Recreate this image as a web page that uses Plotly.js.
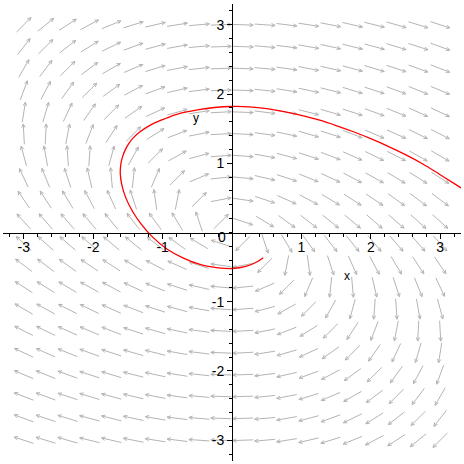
<!DOCTYPE html>
<html>
<head>
<meta charset="utf-8">
<script src="https://cdn.plot.ly/plotly-3.0.1.min.js"></script>
<style>html,body{margin:0;padding:0;background:#fff;}#chart{width:464px;height:464px;}</style>
</head>
<body>
<div id="chart"></div>
<script>
// Direction-field grid (20 x 20)
const gridX = [-3, -2.684, -2.368, -2.053, -1.737, -1.421, -1.105, -0.789, -0.474, -0.158,
               0.158, 0.474, 0.789, 1.105, 1.421, 1.737, 2.053, 2.368, 2.684, 3];
const gridY = [3, 2.684, 2.368, 2.053, 1.737, 1.421, 1.105, 0.789, 0.474, 0.158,
               -0.158, -0.474, -0.789, -1.105, -1.421, -1.737, -2.053, -2.368, -2.684, -3];
// Arrow directions in degrees, one row per gridY value (left to right = gridX)
const arrowAngles = [
  [45,39,33,28,22,17,13,9,5,2,-2,-4,-7,-9,-11,-13,-14,-16,-17,-18],
  [52,45,38,32,26,20,15,10,5,2,-2,-5,-7,-10,-12,-14,-15,-17,-18,-20],
  [60,53,45,37,30,23,17,11,6,2,-2,-5,-8,-11,-13,-15,-17,-18,-20,-21],
  [70,62,54,45,36,28,20,13,7,2,-2,-6,-9,-12,-14,-17,-18,-20,-22,-23],
  [81,74,65,55,45,35,25,16,9,3,-2,-7,-10,-14,-16,-18,-20,-22,-24,-25],
  [93,87,79,69,57,45,32,21,11,3,-3,-8,-12,-16,-18,-21,-23,-24,-26,-27],
  [105,100,94,86,75,61,45,29,15,4,-4,-10,-15,-18,-21,-24,-26,-27,-29,-30],
  [115,112,108,103,95,84,67,45,23,6,-5,-13,-18,-22,-25,-28,-29,-31,-32,-33],
  [124,123,121,118,114,108,98,79,45,11,-8,-18,-24,-28,-31,-33,-34,-36,-37,-37],
  [132,131,131,130,129,128,126,121,108,45,-18,-31,-36,-38,-39,-40,-41,-41,-42,-42],
  [138,138,139,139,140,141,142,144,149,162,-135,-72,-59,-54,-52,-51,-50,-49,-49,-48],
  [143,143,144,146,147,149,152,156,162,172,-169,-135,-101,-82,-72,-66,-62,-59,-57,-56],
  [147,148,149,151,152,155,158,162,167,175,-174,-157,-135,-113,-96,-85,-77,-72,-68,-65],
  [150,151,153,154,156,159,162,165,170,176,-176,-165,-151,-135,-119,-105,-94,-86,-80,-75],
  [153,154,156,157,159,162,164,168,172,177,-177,-169,-159,-148,-135,-123,-111,-101,-93,-87],
  [155,156,158,160,162,164,166,170,173,178,-177,-171,-164,-155,-145,-135,-125,-115,-106,-99],
  [157,158,160,162,163,166,168,171,174,178,-178,-173,-167,-160,-152,-144,-135,-126,-118,-110],
  [159,160,162,163,165,167,169,172,175,178,-178,-174,-169,-163,-157,-150,-143,-135,-127,-120],
  [160,162,163,165,166,168,170,173,175,178,-178,-175,-170,-165,-160,-154,-148,-142,-135,-128],
  [162,163,164,166,167,169,171,173,176,178,-178,-175,-171,-167,-163,-158,-152,-147,-141,-135]
];
// Solution curve
const trajX = [0.45, 0.35, 0.2, 0, -0.2, -0.45, -0.7, -0.95, -1.15, -1.3, -1.43, -1.53, -1.59, -1.61,
               -1.60, -1.575, -1.54, -1.49, -1.42, -1.33, -1.22, -1.1, -0.95, -0.75, -0.5, -0.25,
               0, 0.25, 0.5, 0.75, 1.0, 1.25, 1.5, 1.75, 2.0, 2.25, 2.5, 2.75, 3.0, 3.3];
const trajY = [-0.365, -0.43, -0.49, -0.52, -0.51, -0.465, -0.37, -0.23, -0.06, 0.11, 0.3, 0.5, 0.7, 0.85,
               1.0, 1.1, 1.19, 1.28, 1.37, 1.45, 1.525, 1.59, 1.65, 1.72, 1.77, 1.805,
               1.82, 1.815, 1.79, 1.745, 1.69, 1.625, 1.545, 1.455, 1.355, 1.245, 1.125, 0.99, 0.835, 0.645];
const tickVals = [-3, -2, -1, 1, 2, 3];
const tickText = ['-3', '-2', '-1', '1', '2', '3'];

// build arrow segments
const arrowLen = 0.295, headLen = 0.058, headAng = 25 * Math.PI / 180;
const ax = [], ay = [];
for (let r = 0; r < gridY.length; r++) {
  for (let c = 0; c < gridX.length; c++) {
    const t = arrowAngles[r][c] * Math.PI / 180;
    const cx = gridX[c], cy = gridY[r];
    const x0 = cx - arrowLen / 2 * Math.cos(t), y0 = cy - arrowLen / 2 * Math.sin(t);
    const x1 = cx + arrowLen / 2 * Math.cos(t), y1 = cy + arrowLen / 2 * Math.sin(t);
    ax.push(x0, x1, null); ay.push(y0, y1, null);
    for (const s of [1, -1]) {
      ax.push(x1, x1 - headLen * Math.cos(t + s * headAng), null);
      ay.push(y1, y1 - headLen * Math.sin(t + s * headAng), null);
    }
  }
}

const traces = [
  {x: ax, y: ay, type: 'scatter', mode: 'lines', hoverinfo: 'skip',
   line: {color: 'rgb(180,180,180)', width: 1}},
  {x: trajX, y: trajY, type: 'scatter', mode: 'lines',
   line: {color: '#ff0000', width: 1.3, shape: 'spline', smoothing: 1}}
];

const axisCommon = {
  range: [-3.3, 3.3], anchor: 'free', position: 0.5,
  showline: true, linecolor: '#000', linewidth: 1,
  ticks: 'outside', ticklen: 5, tickwidth: 1, tickcolor: '#000',
  tickmode: 'array', tickvals: tickVals, ticktext: tickText,
  minor: {tickmode: 'linear', tick0: 0, dtick: 0.2, ticks: 'outside', ticklen: 3, tickwidth: 1, tickcolor: '#000', showgrid: false},
  showgrid: false, zeroline: false,
  tickfont: {family: 'Liberation Sans, Arial, sans-serif', size: 14, color: '#000'}
};

const layout = {
  width: 464, height: 464,
  margin: {l: 3, r: 3, t: 4, b: 3},
  paper_bgcolor: '#fff', plot_bgcolor: '#fff',
  showlegend: false,
  xaxis: Object.assign({}, axisCommon, {ticklabelstandoff: -3}),
  yaxis: Object.assign({}, axisCommon),
  annotations: [
    {x: -0.144, y: -0.072, xref: 'x', yref: 'y', text: '0', showarrow: false,
     font: {family: 'Liberation Sans, Arial, sans-serif', size: 14, color: '#000'}},
    {x: 1.65, y: -0.628, xref: 'x', yref: 'y', text: 'x', showarrow: false,
     font: {family: 'Liberation Sans, Arial, sans-serif', size: 12, color: '#000'}},
    {x: -0.519, y: 1.66, xref: 'x', yref: 'y', text: 'y', showarrow: false,
     font: {family: 'Liberation Sans, Arial, sans-serif', size: 12, color: '#000'}}
  ]
};

Plotly.newPlot('chart', traces, layout, {staticPlot: true, displayModeBar: false});
</script>
</body>
</html>
